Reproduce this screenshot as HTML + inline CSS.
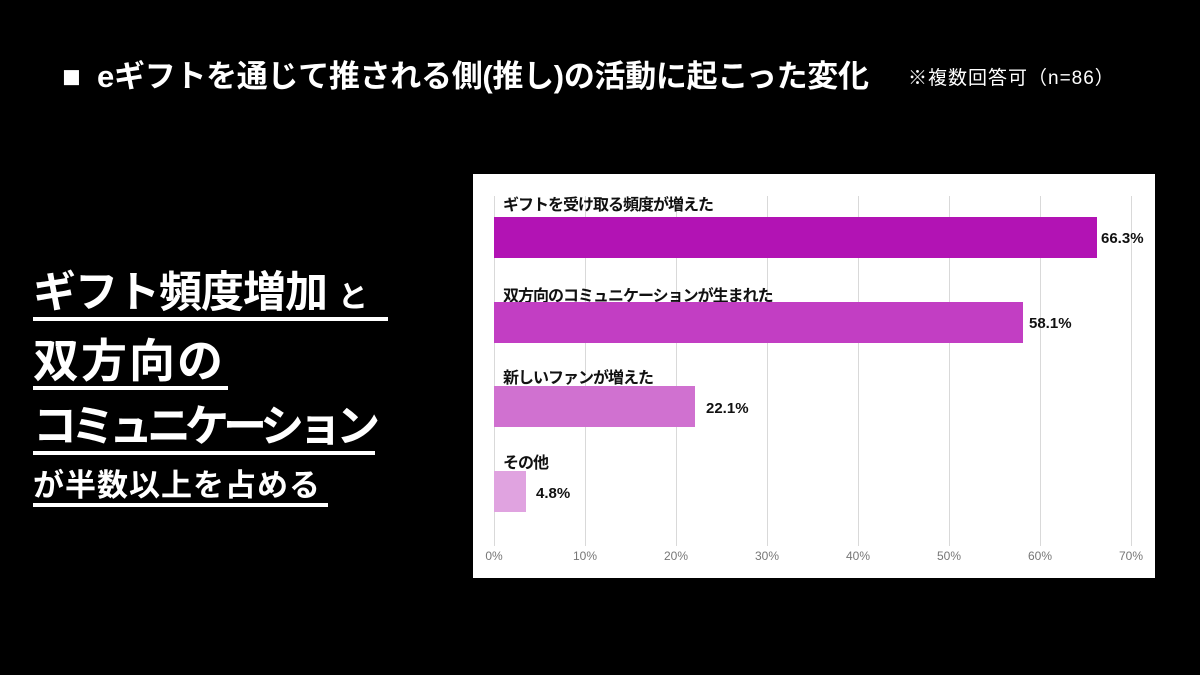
<!DOCTYPE html>
<html><head><meta charset="utf-8"><style>
body{margin:0;width:1200px;height:675px;background:#000;position:relative;overflow:hidden;font-family:"Liberation Sans","Noto Sans CJK JP",sans-serif;font-weight:bold;color:#fff}
.a{position:absolute;white-space:nowrap}
.u{border-bottom:4px solid #fff;line-height:1;padding-bottom:2px}
#chart{position:absolute;left:473px;top:174px;width:682px;height:404px;background:#fff}
.g{position:absolute;top:22px;height:350px;width:1px;background:#d9d9d9}
.t{position:absolute;top:375px;font-size:12px;color:#777;font-weight:normal;transform:translateX(-50%)}
.bar{position:absolute;left:21px;height:41px}
.lb{position:absolute;left:30px;font-size:16px;color:#111;letter-spacing:-1px}
.v{position:absolute;font-size:15px;color:#111}
</style></head><body>
<div class="a" style="left:62px;top:51px;font-size:31px;letter-spacing:-0.3px">■&nbsp; eギフトを通じて推される側(推し)の活動に起こった変化</div>
<div class="a" style="left:908px;top:63px;font-size:19px;font-weight:normal;letter-spacing:1px">※複数回答可（n=86）</div>

<div class="a u" style="left:33px;top:272px;font-size:43px;letter-spacing:-1px;width:355px">ギフト頻度増加 <span style="font-size:30px">と</span></div>
<div class="a u" style="left:33px;top:338px;font-size:46px;width:195px;letter-spacing:2px">双方向の</div>
<div class="a u" style="left:33px;top:405px;font-size:44px;width:342px;letter-spacing:-6px">コミュニケーション</div>
<div class="a u" style="left:33px;top:470px;font-size:31px;width:295px;letter-spacing:1px">が半数以上を占める</div>

<div id="chart">
<div class="g" style="left:21px"></div><div class="g" style="left:112px"></div><div class="g" style="left:203px"></div><div class="g" style="left:294px"></div><div class="g" style="left:385px"></div><div class="g" style="left:476px"></div><div class="g" style="left:567px"></div><div class="g" style="left:658px"></div>
<div class="t" style="left:21px">0%</div><div class="t" style="left:112px">10%</div><div class="t" style="left:203px">20%</div><div class="t" style="left:294px">30%</div><div class="t" style="left:385px">40%</div><div class="t" style="left:476px">50%</div><div class="t" style="left:567px">60%</div><div class="t" style="left:658px">70%</div>
<div class="lb" style="top:17px">ギフトを受け取る頻度が増えた</div>
<div class="bar" style="top:43px;width:603px;background:#b213b4"></div>
<div class="v" style="left:628px;top:56px">66.3%</div>
<div class="lb" style="top:108px">双方向のコミュニケーションが生まれた</div>
<div class="bar" style="top:128px;width:529px;background:#c23ec3"></div>
<div class="v" style="left:556px;top:141px">58.1%</div>
<div class="lb" style="top:190px">新しいファンが増えた</div>
<div class="bar" style="top:212px;width:201px;background:#d071d0"></div>
<div class="v" style="left:233px;top:226px">22.1%</div>
<div class="lb" style="top:275px">その他</div>
<div class="bar" style="top:297px;width:32px;background:#e0a3e0"></div>
<div class="v" style="left:63px;top:311px">4.8%</div>
</div>
</body></html>
